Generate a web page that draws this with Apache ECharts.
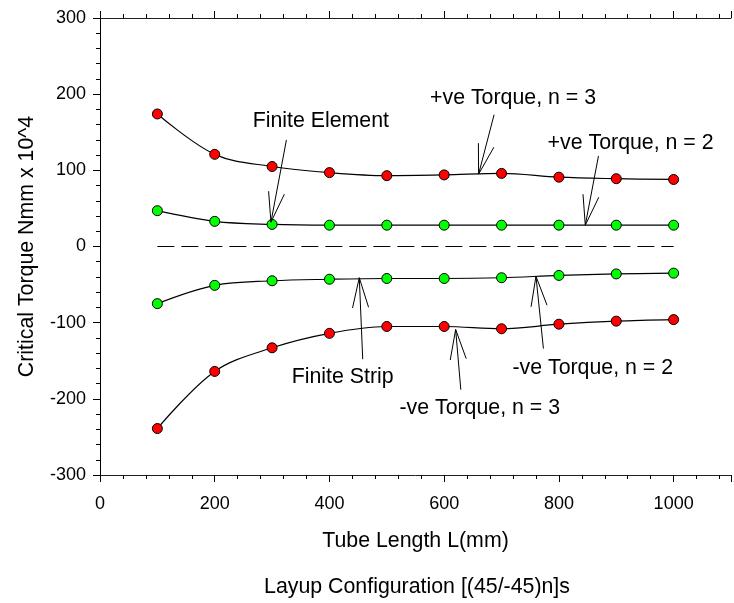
<!DOCTYPE html>
<html>
<head>
<meta charset="utf-8">
<script src="https://cdn.jsdelivr.net/npm/echarts@6/dist/echarts.min.js"></script>
<style>
  html, body { margin: 0; padding: 0; background: #fff; }
  #chart { width: 734px; height: 603px; }
</style>
</head>
<body>
<div id="chart"></div>
<script>
// tube length (mm)
var lengths = [100, 200, 300, 400, 500, 600, 700, 800, 900, 1000];
// critical torque, Nmm x 10^4
var posN3 = [174, 121, 105, 97, 93, 94, 96, 91, 89, 88];
var posN2 = [47, 33, 29, 28, 28, 28, 28, 28, 28, 28];
var negN2 = [-75, -51, -45, -43, -42, -42, -41, -38, -36, -35];
var negN3 = [-239, -164, -133, -114, -105, -105, -108, -102, -98, -96];
// dashed zero reference
var zeroLine = [[100, 0], [1000, 0]];

// notes: text, text position, arrow tail, arrow tip (data units)
var noteText = ['Finite Element', '+ve Torque, n = 3', '+ve Torque, n = 2',
  'Finite Strip', '-ve Torque, n = 2', '-ve Torque, n = 3'];
var noteAt = [[385, 164], [720, 195], [925, 136], [423, -171], [859, -160], [662, -212]];
var arrowFrom = [[325, 140], [687, 173], [869, 119], [458, -148], [773, -134], [629, -188]];
var arrowTo = [[298, 32], [660, 95], [846, 28], [452, -41], [760, -39], [620, -109]];

var font = 'Liberation Sans, Arial, sans-serif';
var bigSize = 21.33;

function pairs(ys) {
  var out = [];
  for (var i = 0; i < lengths.length; i++) out.push([lengths[i], ys[i]]);
  return out;
}

var notes = [];
for (var i = 0; i < noteText.length; i++) {
  notes.push(noteAt[i].concat(arrowFrom[i], arrowTo[i]));
}

function renderNote(params, api) {
  var t = api.coord([api.value(0), api.value(1)]);
  var a = api.coord([api.value(2), api.value(3)]);
  var b = api.coord([api.value(4), api.value(5)]);
  var dx = a[0] - b[0], dy = a[1] - b[1];
  var len = Math.sqrt(dx * dx + dy * dy);
  var ux = dx / len, uy = dy / len;
  var ang = 15 * Math.PI / 180, wl = 31;
  var c = Math.cos(ang), s = Math.sin(ang);
  var w1 = [b[0] + wl * (ux * c - uy * s), b[1] + wl * (ux * s + uy * c)];
  var w2 = [b[0] + wl * (ux * c + uy * s), b[1] + wl * (-ux * s + uy * c)];
  return {
    type: 'group',
    children: [
      { type: 'line', shape: { x1: a[0], y1: a[1], x2: b[0], y2: b[1] },
        style: { stroke: '#000', lineWidth: 1 } },
      { type: 'polyline', shape: { points: [w1, b, w2] },
        style: { stroke: '#000', fill: null, lineWidth: 1 } },
      { type: 'text', x: t[0], y: t[1],
        style: { text: noteText[params.dataIndex], fill: '#000', fontSize: bigSize,
          fontFamily: font, align: 'center', verticalAlign: 'middle' } }
    ]
  };
}

function curve(name, ys, color) {
  return {
    name: name,
    type: 'line',
    data: pairs(ys),
    smooth: 0.35,
    symbol: 'circle',
    symbolSize: 10,
    lineStyle: { color: '#000', width: 1.2 },
    itemStyle: { color: color, borderColor: '#000', borderWidth: 1 },
    z: 3
  };
}

function xAx(pos, step, tickLen, main) {
  return {
    type: 'value', position: pos, min: 0, max: 1100, interval: step,
    show: true,
    axisLine: { show: main, onZero: false, lineStyle: { color: '#222', width: 1 } },
    axisTick: { show: true, length: tickLen, lineStyle: { color: '#000' } },
    axisLabel: { show: main && pos === 'bottom', color: '#000', fontSize: 18, fontFamily: font, margin: 20,
      formatter: function (v) { return v > 1000 ? '' : v; } },
    splitLine: { show: false },
    name: main && pos === 'bottom' ? 'Tube Length L(mm)' : '',
    nameLocation: 'middle', nameGap: 56,
    nameTextStyle: { color: '#000', fontSize: bigSize, fontFamily: font }
  };
}

var chart = echarts.init(document.getElementById('chart'));
chart.setOption({
  animation: false,
  backgroundColor: '#fff',
  grid: { left: 100, top: 18, width: 635, height: 457, containLabel: false },
  xAxis: [
    xAx('bottom', 200, 7, true),
    xAx('bottom', 40, 4, false),
    xAx('top', 200, 7, true),
    xAx('top', 40, 4, false)
  ],
  yAxis: {
    type: 'value', min: -300, max: 300, interval: 100,
    axisLine: { show: true, onZero: false, lineStyle: { color: '#000', width: 1 } },
    axisTick: { show: true, length: 7, lineStyle: { color: '#000' } },
    minorTick: { show: true, splitNumber: 5, length: 4, lineStyle: { color: '#000' } },
    axisLabel: { color: '#000', fontSize: 18, fontFamily: font, margin: 14 },
    splitLine: { show: false },
    name: 'Critical Torque Nmm x 10^4',
    nameLocation: 'middle', nameGap: 62,
    nameTextStyle: { color: '#000', fontSize: bigSize, fontFamily: font }
  },
  graphic: [{
    type: 'text', x: 417, y: 587,
    style: { text: 'Layup Configuration [(45/-45)n]s', fill: '#000', fontSize: bigSize,
      fontFamily: font, align: 'center', verticalAlign: 'middle' }
  }],
  series: [
    {
      type: 'line', data: zeroLine, symbol: 'none',
      lineStyle: { color: '#000', width: 1, type: [17, 7] }, z: 2
    },
    curve('+ve Torque, n = 3', posN3, '#ff0000'),
    curve('+ve Torque, n = 2', posN2, '#00ff00'),
    curve('-ve Torque, n = 2', negN2, '#00ff00'),
    curve('-ve Torque, n = 3', negN3, '#ff0000'),
    {
      type: 'custom', data: notes, renderItem: renderNote,
      encode: { x: [0, 2, 4], y: [1, 3, 5] }, z: 4
    }
  ]
});
</script>
</body>
</html>
